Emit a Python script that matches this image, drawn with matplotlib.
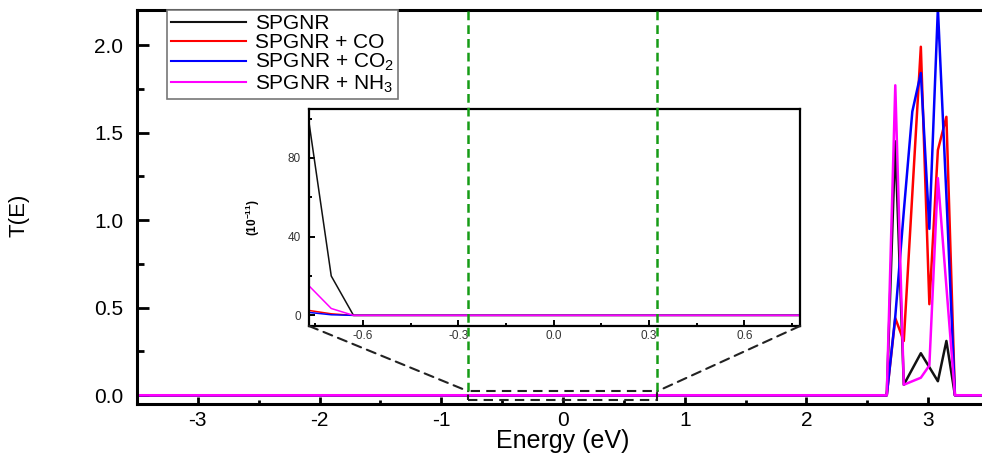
import numpy as np
import matplotlib
matplotlib.use('Agg')
from matplotlib import pyplot as plt
from matplotlib.lines import Line2D
from matplotlib.patches import Rectangle, ConnectionPatch
from matplotlib.ticker import MultipleLocator

plt.rcParams['font.family'] = ['Liberation Sans', 'DejaVu Sans']
plt.rcParams['mathtext.default'] = 'regular'
plt.rcParams['axes.unicode_minus'] = False

labels = ['SPGNR', 'SPGNR + CO', 'SPGNR + CO$_2$', 'SPGNR + NH$_3$']
colors = ['#111111', '#ff0000', '#0000ff', '#ff00ff']

# main transmission, T(E)
energy = [-3.5, 2.66, 2.73, 2.80, 2.87, 2.94, 3.01, 3.08, 3.15, 3.22, 3.5]
t_pristine = [0, 0, 1.45, 0.06, 0.15, 0.24, 0.16, 0.08, 0.31, 0, 0]
t_co = [0, 0, 0.44, 0.31, 1.15, 1.99, 0.52, 1.40, 1.59, 0, 0]
t_co2 = [0, 0, 0.45, 1.05, 1.62, 1.84, 0.95, 2.21, 1.14, 0, 0]
t_nh3 = [0, 0, 1.77, 0.06, 0.08, 0.10, 0.17, 1.24, 0.62, 0, 0]

# zoom around the Fermi level, in units of 1e-11
energy_zoom = [-0.77, -0.70, -0.63, 0.8]
z_pristine = [98, 20, 0, 0]
z_co = [2.5, 0.8, 0, 0]
z_co2 = [1.5, 0.3, 0, 0]
z_nh3 = [15, 3.5, 0, 0]

gap_edges = [-0.78, 0.775]

W, H = 982, 467
fig = plt.figure(figsize=(W / 100, H / 100), dpi=100)
ax = fig.add_axes([137 / W, 1 - 404 / H, (989 - 137) / W, (404 - 10) / H])

for t, c, lab in zip([t_pristine, t_co, t_co2, t_nh3], colors, labels):
    ax.plot(energy, t, color=c, lw=1.8, label=lab)

ax.set_xlim(-3.5, 3.5)
ax.set_ylim(-0.05, 2.2)
ax.xaxis.set_major_locator(MultipleLocator(1))
ax.xaxis.set_minor_locator(MultipleLocator(0.5))
ax.yaxis.set_major_locator(MultipleLocator(0.5))
ax.yaxis.set_minor_locator(MultipleLocator(0.25))
ax.set_yticks([0, 0.5, 1.0, 1.5, 2.0])
ax.set_yticklabels(['0.0', '0.5', '1.0', '1.5', '2.0'])
for s in ax.spines.values():
    s.set_linewidth(2.2)
ax.tick_params(axis='x', which='major', direction='in', length=5, width=2, labelsize=15, pad=5)
ax.tick_params(axis='x', which='minor', direction='in', length=3, width=2)
ax.tick_params(axis='y', which='major', direction='in', length=8.5, width=2, labelsize=15, pad=10)
ax.tick_params(axis='y', which='minor', direction='in', length=5, width=2)

ax.set_xlabel('Energy (eV)', fontsize=18)
ax.xaxis.label.set_va('center')
ax.xaxis.set_label_coords(0.5, -0.095)
ax.set_ylabel('T(E)', fontsize=16)
ax.yaxis.label.set_va('center')
ax.yaxis.set_label_coords(-0.139, 0.48)

leg = ax.legend(loc='upper left', bbox_to_anchor=(0.035, 1.0), borderaxespad=0,
                fontsize=15, handlelength=3.6, handletextpad=0.45, labelspacing=0.0,
                borderpad=0.2, fancybox=False, framealpha=1)
leg.get_frame().set_edgecolor('#777777')
leg.get_frame().set_linewidth(1.2)
for h in leg.get_lines():
    h.set_linewidth(1.5)

# inset
axin = fig.add_axes([309 / W, 1 - 326 / H, 491 / W, (326 - 109.3) / H])
for z, c in zip([z_pristine, z_co, z_co2, z_nh3], colors):
    axin.plot(energy_zoom, z, color=c, lw=1.1)
axin.set_xlim(-0.77, 0.775)
axin.set_ylim(-5.4, 104.7)
axin.xaxis.set_major_locator(MultipleLocator(0.3))
axin.xaxis.set_minor_locator(MultipleLocator(0.15))
axin.yaxis.set_major_locator(MultipleLocator(40))
axin.yaxis.set_minor_locator(MultipleLocator(20))
axin.set_xticks([-0.6, -0.3, 0.0, 0.3, 0.6])
axin.set_xticklabels(['-0.6', '-0.3', '0.0', '0.3', '0.6'])
for s in axin.spines.values():
    s.set_linewidth(1.6)
axin.tick_params(which='major', direction='in', length=4, width=1.4, labelsize=8.5, labelcolor='#333333')
axin.tick_params(which='minor', direction='in', length=2.5, width=1.4)
axin.tick_params(axis='y', pad=6)
axin.tick_params(axis='x', pad=3)
axin.set_ylabel('(10$^{-11}$)', fontsize=8.5, fontweight='bold')
axin.yaxis.label.set_va('center')
axin.yaxis.set_label_coords(-0.115, 0.5)

# zoom window and connectors
rect = Rectangle((gap_edges[0], -0.028), gap_edges[1] - gap_edges[0], 0.051,
                 fill=False, ec='#222222', lw=1.5, ls=(0, (4.5, 3)),
                 transform=ax.transData, clip_on=False)
fig.add_artist(rect)
for ia, xb in [((0, 0), gap_edges[0]), ((1, 0), gap_edges[1])]:
    con = ConnectionPatch(xyA=ia, coordsA=axin.transAxes, xyB=(xb, 0.023), coordsB=ax.transData,
                          color='#222222', lw=1.5, ls=(0, (4.5, 3)))
    fig.add_artist(con)

# band edges
for xg in gap_edges:
    fig.add_artist(Line2D([xg, xg], [0.023, 2.2], transform=ax.transData, color='#169c16',
                          lw=1.8, ls=(0, (3.5, 2))))

fig.savefig('out.png', dpi=100)
